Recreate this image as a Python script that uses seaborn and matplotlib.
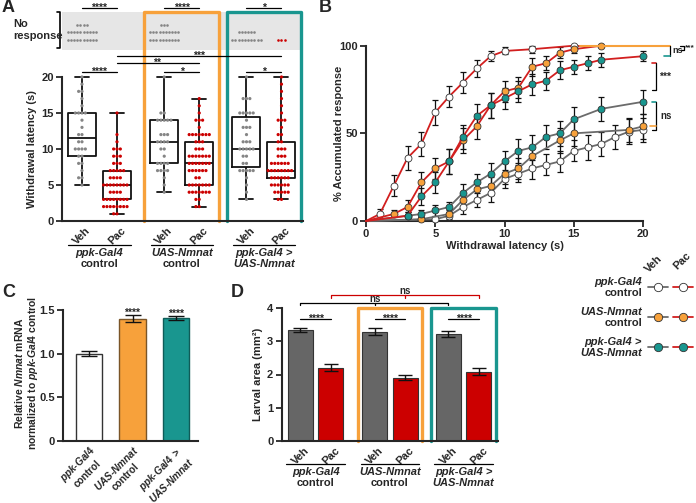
import numpy as np
import pandas as pd
import matplotlib
matplotlib.use('Agg')
import matplotlib.pyplot as plt
import matplotlib.transforms as mtransforms
import seaborn as sns

# ---------------- dane ----------------
treat_order = ['Veh', 'Pac', 'Veh', 'Pac', 'Veh', 'Pac']
genotype_lines = [('ppk-Gal4', 'control'), ('UAS-Nmnat', 'control'), ('ppk-Gal4 >', 'UAS-Nmnat')]
genotype_italic = [(True, False), (True, False), (True, True)]

# A: czas reakcji (s) i liczba larw z takim czasem
lat_ppk_veh = [20, 19, 18, 17, 16, 15, 14, 13, 12, 11, 10, 9, 8, 7, 6, 5]
n_ppk_veh = [1, 1, 2, 1, 1, 4, 1, 1, 2, 2, 4, 2, 2, 1, 2, 1]
lat_ppk_pac = [15, 12, 11, 10, 9, 8, 7, 6, 5, 4, 3, 2, 1]
n_ppk_pac = [1, 1, 1, 3, 3, 3, 5, 4, 8, 4, 8, 8, 2]
lat_uas_veh = [20, 15, 14, 12, 11, 10, 9, 8, 7, 6, 5, 4]
n_uas_veh = [1, 2, 5, 3, 4, 2, 1, 4, 4, 1, 1, 1]
lat_uas_pac = [17, 16, 15, 14, 13, 12, 11, 10, 9, 8, 7, 6, 5, 4, 3, 2]
n_uas_pac = [1, 1, 1, 3, 1, 7, 3, 3, 7, 7, 6, 2, 7, 7, 2, 2]
lat_tg_veh = [20, 17, 15, 14, 13, 12, 11, 10, 9, 8, 7, 6, 5, 4, 3]
n_tg_veh = [1, 3, 5, 1, 3, 1, 3, 5, 2, 2, 5, 1, 1, 1, 1]
lat_tg_pac = [20, 19, 18, 17, 16, 15, 14, 13, 12, 11, 10, 9, 8, 7, 6, 5, 4, 3]
n_tg_pac = [1, 1, 1, 1, 1, 1, 3, 1, 2, 2, 3, 3, 6, 8, 6, 6, 5, 2]
no_response = [24, 0, 23, 0, 16, 3]
a_sig_top = ['****', '****', '*']
a_sig_pair = ['****', '*', '*']

# B: % skumulowanej odpowiedzi
t_ppk_veh = [0, 5, 6, 7, 8, 9, 10, 11, 12, 13, 14, 15, 16, 17, 18, 19, 20]
r_ppk_veh = [0, 1, 3, 8, 12, 16, 24, 27, 30, 32, 34, 40, 42, 44, 48, 51, 52]
e_ppk_veh = [0, 1, 2, 4, 4, 5, 5, 5, 6, 6, 6, 6, 7, 7, 7, 7, 7]
t_uas_veh = [0, 4, 6, 7, 8, 9, 10, 11, 12, 14, 15, 19, 20]
r_uas_veh = [0, 1, 4, 12, 18, 20, 27, 30, 37, 46, 50, 52, 54]
e_uas_veh = [0, 1, 2, 4, 5, 5, 6, 6, 6, 7, 7, 7, 7]
t_tg_veh = [0, 3, 4, 5, 6, 7, 8, 9, 10, 11, 12, 13, 14, 15, 17, 20]
r_tg_veh = [0, 3, 4, 6, 8, 16, 22, 27, 34, 40, 42, 48, 50, 58, 64, 68]
e_tg_veh = [0, 2, 2, 3, 3, 5, 5, 6, 6, 7, 7, 7, 7, 7, 7, 7]
t_ppk_pac = [0, 1, 2, 3, 4, 5, 6, 7, 8, 9, 10, 12, 15]
r_ppk_pac = [0, 4, 20, 36, 44, 62, 71, 79, 87, 94, 97, 98, 100]
e_ppk_pac = [0, 3, 6, 7, 7, 7, 6, 6, 5, 3, 2, 2, 0]
t_uas_pac = [0, 2, 3, 4, 5, 6, 7, 8, 9, 10, 11, 12, 13, 14, 15, 17]
r_uas_pac = [0, 4, 8, 22, 30, 34, 46, 54, 66, 74, 76, 88, 90, 96, 98, 100]
e_uas_pac = [0, 2, 4, 6, 6, 7, 7, 7, 7, 6, 6, 5, 4, 3, 2, 0]
t_tg_pac = [0, 3, 4, 5, 6, 7, 8, 9, 10, 11, 12, 13, 14, 15, 16, 17, 20]
r_tg_pac = [0, 3, 14, 22, 34, 48, 60, 66, 70, 74, 78, 80, 86, 88, 90, 92, 94]
e_tg_pac = [0, 2, 5, 6, 7, 7, 7, 7, 6, 6, 6, 5, 5, 4, 4, 4, 3]

# C: względna ekspresja Nmnat
c_mean = [1.00, 1.40, 1.41]
c_sem = [0.03, 0.04, 0.02]
c_sig = ['', '****', '****']

# D: powierzchnia larw (mm2)
d_mean = [3.34, 2.21, 3.29, 1.90, 3.22, 2.09]
d_sem = [0.05, 0.10, 0.10, 0.08, 0.09, 0.10]

# ---------------- styl ----------------
GRAY_DOT = '#858585'
RED = '#cc0000'
RED_LINE = '#d21f1f'
GRAY_LINE = '#6b6b6b'
ORANGE = '#f7a13b'
TEAL = '#19968f'
VEH_BAR = '#666666'
geno_colors = ['white', ORANGE, TEAL]

sns.set_style('ticks')
plt.rcParams['font.family'] = ['Liberation Sans', 'DejaVu Sans']
plt.rcParams['font.weight'] = 'bold'
plt.rcParams['axes.labelweight'] = 'bold'
plt.rcParams['mathtext.fontset'] = 'custom'
plt.rcParams['mathtext.rm'] = 'Liberation Sans:bold'
plt.rcParams['mathtext.bf'] = 'Liberation Sans:bold'
plt.rcParams['mathtext.it'] = 'Liberation Sans:italic:bold'
plt.rcParams['axes.linewidth'] = 1.5

W, H = 696, 503
fig = plt.figure(figsize=(W / 100, H / 100), dpi=100)


def rect(l, t, r, b):
    return [l / W, 1 - b / H, (r - l) / W, (b - t) / H]


def fy(py):
    return 1 - py / H


def style_axis(ax):
    sns.despine(ax=ax)
    ax.tick_params(axis='y', length=4, width=1.3, labelsize=8, pad=2)
    ax.tick_params(axis='x', length=0, labelsize=8)


def star(ax, x, y, s):
    ax.text(x, y, s, ha='center', va='center', fontsize=7.5, clip_on=False)


# ---------------- A ----------------
axA = fig.add_axes(rect(62, 0, 302.5, 221))
pos_a = [0, 1, 2.35, 3.35, 4.7, 5.7]
lat_all = [lat_ppk_veh, lat_ppk_pac, lat_uas_veh, lat_uas_pac, lat_tg_veh, lat_tg_pac]
n_all = [n_ppk_veh, n_ppk_pac, n_uas_veh, n_uas_pac, n_tg_veh, n_tg_pac]
rows = []
for p, t, lat, n in zip(pos_a, treat_order, lat_all, n_all):
    for v in np.repeat(lat, n):
        rows.append((p, t, v))
dfA = pd.DataFrame(rows, columns=['pos', 'treat', 'lat'])

axA.axhspan(23.75, 29.03, color='#e6e6e6', lw=0, zorder=0)
sns.boxplot(data=dfA, x='pos', y='lat', native_scale=True, orient='x', fill=False,
            color='#111111', whis=(0, 100), width=0.8, linewidth=1.3,
            showfliers=False, ax=axA)
sns.swarmplot(data=dfA, x='pos', y='lat', hue='treat', native_scale=True, orient='x',
              palette={'Veh': GRAY_DOT, 'Pac': RED}, size=2.3, legend=False, ax=axA)

# brak odpowiedzi - kropki w rzędach po 10
for p, t, k in zip(pos_a, treat_order, no_response):
    xs, ys = [], []
    for i in range(k):
        row, col = divmod(i, 10)
        in_row = min(10, k - row * 10)
        xs.append(p + (col - (in_row - 1) / 2) * 0.09)
        ys.append(25.14 + row * 1.04)
    if k:
        axA.scatter(xs, ys, s=3.5, color=GRAY_DOT if t == 'Veh' else RED, lw=0, clip_on=False)

centers_a = [(pos_a[2 * g] + pos_a[2 * g + 1]) / 2 for g in range(3)]
for g, col in [(1, ORANGE), (2, TEAL)]:
    c = centers_a[g]
    axA.plot([c - 1.07, c - 1.07, c + 1.07, c + 1.07], [0, 29.03, 29.03, 0],
             color=col, lw=2.4, clip_on=False, zorder=1)

for g in range(3):
    i, j = pos_a[2 * g], pos_a[2 * g + 1]
    axA.plot([i, j], [29.58, 29.58], color='k', lw=0.9, clip_on=False)
    star(axA, (i + j) / 2, 29.58, a_sig_top[g])
    axA.plot([i, j], [20.7, 20.7], color='k', lw=0.9, clip_on=False)
    star(axA, (i + j) / 2, 20.7, a_sig_pair[g])
axA.plot([pos_a[1], pos_a[5]], [22.9, 22.9], color='k', lw=0.9)
star(axA, pos_a[3], 22.9, '***')
axA.plot([pos_a[1], pos_a[3]], [21.9, 21.9], color='k', lw=0.9)
star(axA, 2.14, 21.9, '**')

axA.set_xlim(-0.571, 6.3)
axA.set_ylim(0, 30.69)
axA.set_yticks([0, 5, 10, 15, 20])
axA.spines['left'].set_bounds(0, 20)
axA.set_xticks(pos_a, treat_order, rotation=45)
axA.set_xlabel('')
axA.set_ylabel('Withdrawal latency (s)', fontsize=8)
axA.yaxis.set_label_coords(-0.105, 10 / 30.69)
style_axis(axA)

trans_a = mtransforms.blended_transform_factory(axA.transData, fig.transFigure)
for g in range(3):
    c = centers_a[g]
    axA.plot([c - 0.89, c + 0.89], [fy(245)] * 2, transform=trans_a, color='k', lw=0.9, clip_on=False)
    for k in range(2):
        axA.text(c, fy(253 + 11 * k), genotype_lines[g][k], transform=trans_a, ha='center',
                 va='center', fontsize=8, fontstyle='italic' if genotype_italic[g][k] else 'normal')

# ---------------- B ----------------
axB = fig.add_axes(rect(366, 45.7, 643, 221))
b_series = [
    (t_ppk_veh, r_ppk_veh, e_ppk_veh, 'white', GRAY_LINE),
    (t_uas_veh, r_uas_veh, e_uas_veh, ORANGE, GRAY_LINE),
    (t_tg_veh, r_tg_veh, e_tg_veh, TEAL, GRAY_LINE),
    (t_ppk_pac, r_ppk_pac, e_ppk_pac, 'white', RED_LINE),
    (t_uas_pac, r_uas_pac, e_uas_pac, ORANGE, RED_LINE),
    (t_tg_pac, r_tg_pac, e_tg_pac, TEAL, RED_LINE),
]
for t, r, e, fc, lc in b_series:
    axB.errorbar(t[1:], r[1:], yerr=e[1:], fmt='none', ecolor='#111111', elinewidth=0.9,
                 capsize=2, capthick=0.9, clip_on=False, zorder=3)
    if t[-1] < 20:
        axB.plot([t[-1], 20], [r[-1], r[-1]], color=lc, lw=1.3, clip_on=False, zorder=3)
    sns.lineplot(x=t, y=r, color=lc, lw=1.3, marker='o', markersize=5,
                 markerfacecolor=fc, markeredgecolor='#333333', markeredgewidth=0.6,
                 markevery=list(range(1, len(t))), clip_on=False, zorder=4, ax=axB)
axB.set_xlim(0, 20)
axB.set_ylim(0, 100)
axB.set_xticks([0, 5, 10, 15, 20])
axB.set_yticks([0, 50, 100])
axB.set_xlabel('Withdrawal latency (s)', fontsize=8)
axB.set_ylabel('% Accumulated response', fontsize=8)
axB.yaxis.set_label_coords(-0.079, 0.5)
axB.xaxis.set_label_coords(0.5, -0.115)
style_axis(axB)
axB.tick_params(axis='x', length=4, width=1.3, pad=2)

# ---------------- C ----------------
axC = fig.add_axes(rect(63, 305.6, 198, 441))
c_names = ['ppk-Gal4 control', 'UAS-Nmnat control', 'ppk-Gal4 > UAS-Nmnat']
dfC = pd.DataFrame({'geno': c_names, 'rel': c_mean})
sns.barplot(data=dfC, x='geno', y='rel', hue='geno', palette=geno_colors, width=0.6,
            saturation=1, edgecolor='#3a3a3a', linewidth=1.0, legend=False, ax=axC)
for patch, ec in zip(axC.patches, ['#333333', '#7a5528', '#0f5c58']):
    patch.set_edgecolor(ec)
axC.errorbar(range(3), c_mean, yerr=c_sem, fmt='none', ecolor='#111111', elinewidth=1,
             capsize=6, capthick=1)
for i in range(3):
    star(axC, i, c_mean[i] + c_sem[i] + 0.03, c_sig[i])
axC.set_xlim(-0.598, 2.506)
axC.set_ylim(0, 1.55)
axC.set_yticks([0, 0.5, 1.0, 1.5], ['0', '0.5', '1.0', '1.5'])
axC.spines['left'].set_bounds(0, 1.5)
c_ticklabels = [r'$\mathit{ppk}$-$\mathit{Gal4}$' + '\ncontrol',
                r'$\mathit{UAS}$-$\mathit{Nmnat}$' + '\ncontrol',
                r'$\mathit{ppk}$-$\mathit{Gal4}$ $\mathit{>}$' + '\n' + r'$\mathit{UAS}$-$\mathit{Nmnat}$']
axC.set_xticks(range(3), c_ticklabels, rotation=45, ha='right', va='top',
               rotation_mode='anchor', multialignment='center')
axC.set_xlabel('')
axC.set_ylabel(r'Relative $\mathit{Nmnat}$ mRNA' + '\n' + r'normalized to $\mathit{ppk}$-$\mathit{Gal4}$ control',
               fontsize=7.5, linespacing=1.1)
axC.yaxis.set_label_coords(-0.168, 0.5)
style_axis(axC)
axC.tick_params(axis='x', labelsize=7.2, pad=2)

# ---------------- D ----------------
axD = fig.add_axes(rect(281.7, 308, 498, 441))
pos_d = [0, 1, 2.43, 3.43, 4.85, 5.85]
dfD = pd.DataFrame({'pos': pos_d, 'treat': treat_order, 'area': d_mean})
sns.barplot(data=dfD, x='pos', y='area', hue='treat', native_scale=True, dodge=False,
            palette={'Veh': VEH_BAR, 'Pac': RED}, width=0.82, saturation=1,
            edgecolor='#333333', linewidth=0.8, legend=False, ax=axD)
axD.errorbar(pos_d, d_mean, yerr=d_sem, fmt='none', ecolor='#111111', elinewidth=1,
             capsize=5, capthick=1)
centers_d = [(pos_d[2 * g] + pos_d[2 * g + 1]) / 2 for g in range(3)]
for g, col in [(1, ORANGE), (2, TEAL)]:
    c = centers_d[g]
    axD.plot([c - 1.06, c - 1.06, c + 1.06, c + 1.06], [0, 4.0, 4.0, 0],
             color=col, lw=2.4, clip_on=False, zorder=1)
for g in range(3):
    i, j = pos_d[2 * g], pos_d[2 * g + 1]
    axD.plot([i, j], [3.67, 3.67], color='k', lw=0.9, clip_on=False)
    star(axD, (i + j) / 2, 3.67, '****')
# ns - porównania między genotypami
axD.plot([pos_d[0], pos_d[0], pos_d[4], pos_d[4]], [4.08, 4.16, 4.16, 4.08], color='k', lw=0.9, clip_on=False)
axD.plot([pos_d[2], pos_d[2]], [4.16, 4.08], color='k', lw=0.9, clip_on=False)
axD.text(pos_d[2], 4.18, 'ns', ha='center', va='baseline', fontsize=7, clip_on=False)
axD.plot([pos_d[1], pos_d[1], pos_d[5], pos_d[5]], [4.31, 4.39, 4.39, 4.31], color=RED, lw=0.9, clip_on=False)
axD.plot([pos_d[3], pos_d[3]], [4.39, 4.31], color=RED, lw=0.9, clip_on=False)
axD.text(pos_d[3], 4.42, 'ns', ha='center', va='baseline', fontsize=7, clip_on=False)

axD.set_xlim(-0.616, 6.475)
axD.set_ylim(0, 4.0)
axD.set_yticks([0, 1, 2, 3, 4])
axD.set_xticks(pos_d, treat_order, rotation=45)
axD.set_xlabel('')
axD.set_ylabel('Larval area (mm²)', fontsize=8)
axD.yaxis.set_label_coords(-0.086, 0.5)
style_axis(axD)

trans_d = mtransforms.blended_transform_factory(axD.transData, fig.transFigure)
for g in range(3):
    c = centers_d[g]
    axD.plot([c - 0.96, c + 0.96], [fy(464)] * 2, transform=trans_d, color='k', lw=0.9, clip_on=False)
    for k in range(2):
        axD.text(c, fy(472 + 11 * k), genotype_lines[g][k], transform=trans_d, ha='center',
                 va='center', fontsize=8, fontstyle='italic' if genotype_italic[g][k] else 'normal')

# ---------------- nakładka: litery, legenda, nawiasy ----------------
axO = fig.add_axes([0, 0, 1, 1], zorder=10)
axO.set_xlim(0, W)
axO.set_ylim(H, 0)
axO.axis('off')
for letter, x, y in [('A', 2, -1), ('B', 319, -1), ('C', 2, 284), ('D', 231, 284)]:
    axO.text(x, y, letter, fontsize=13, ha='left', va='top')

axO.text(13, 24, 'No', fontsize=8, va='center')
axO.text(13, 36, 'response', fontsize=8, va='center')
axO.plot([57, 60, 60, 57], [12, 12, 48, 48], color='k', lw=1.2)

# legenda
axO.text(654, 264, 'Veh', rotation=45, ha='center', va='center', fontsize=8)
axO.text(682, 261, 'Pac', rotation=45, ha='center', va='center', fontsize=8)
for k, yy in enumerate([287, 317, 347]):
    for xx, lc in [(658, GRAY_LINE), (683, RED_LINE)]:
        axO.plot([xx - 10, xx + 10], [yy, yy], color=lc, lw=1.3)
        axO.plot([xx], [yy], marker='o', ms=6, mfc=geno_colors[k], mec='#333333', mew=0.6)
    for j in range(2):
        axO.text(642, yy - 5 + 11 * j, genotype_lines[k][j], ha='right', va='center', fontsize=8,
                 fontstyle='italic' if genotype_italic[k][j] else 'normal')

# nawiasy w B
tB = mtransforms.blended_transform_factory(axO.transData, axB.transData)
axO.plot([580, 670], [r_uas_pac[-1], r_uas_pac[-1]], color=ORANGE, lw=1.5, transform=tB)
axO.plot([670, 670], [100, r_tg_pac[-1]], color='k', lw=0.9, transform=tB)
axO.plot([664, 670], [r_tg_pac[-1], r_tg_pac[-1]], color=TEAL, lw=1.2, transform=tB)
axO.text(672, 97, 'ns', fontsize=6.5, va='center', transform=tB)
axO.plot([680, 684, 684, 681], [100, 100, 97.5, 97.5], color='k', lw=0.9, transform=tB)
axO.text(685, 99, '***', fontsize=6, va='center', transform=tB)
axO.plot([652, 656], [90, 90], color=RED_LINE, lw=1.2, transform=tB)
axO.plot([656, 656, 652], [90, 75, 75], color='k', lw=0.9, transform=tB)
axO.text(659, 82.5, '***', fontsize=7.5, va='center', transform=tB)
axO.plot([652, 656], [r_tg_veh[-1], r_tg_veh[-1]], color=TEAL, lw=1.2, transform=tB)
axO.plot([656, 656, 652], [r_tg_veh[-1], r_ppk_veh[-1], r_ppk_veh[-1]], color='k', lw=0.9, transform=tB)
axO.plot([650, 656], [r_uas_veh[-1], r_uas_veh[-1]], color=ORANGE, lw=1.2, transform=tB)
axO.text(660, 60, 'ns', fontsize=7, va='center', transform=tB)

fig.savefig('out.png', dpi=100)
